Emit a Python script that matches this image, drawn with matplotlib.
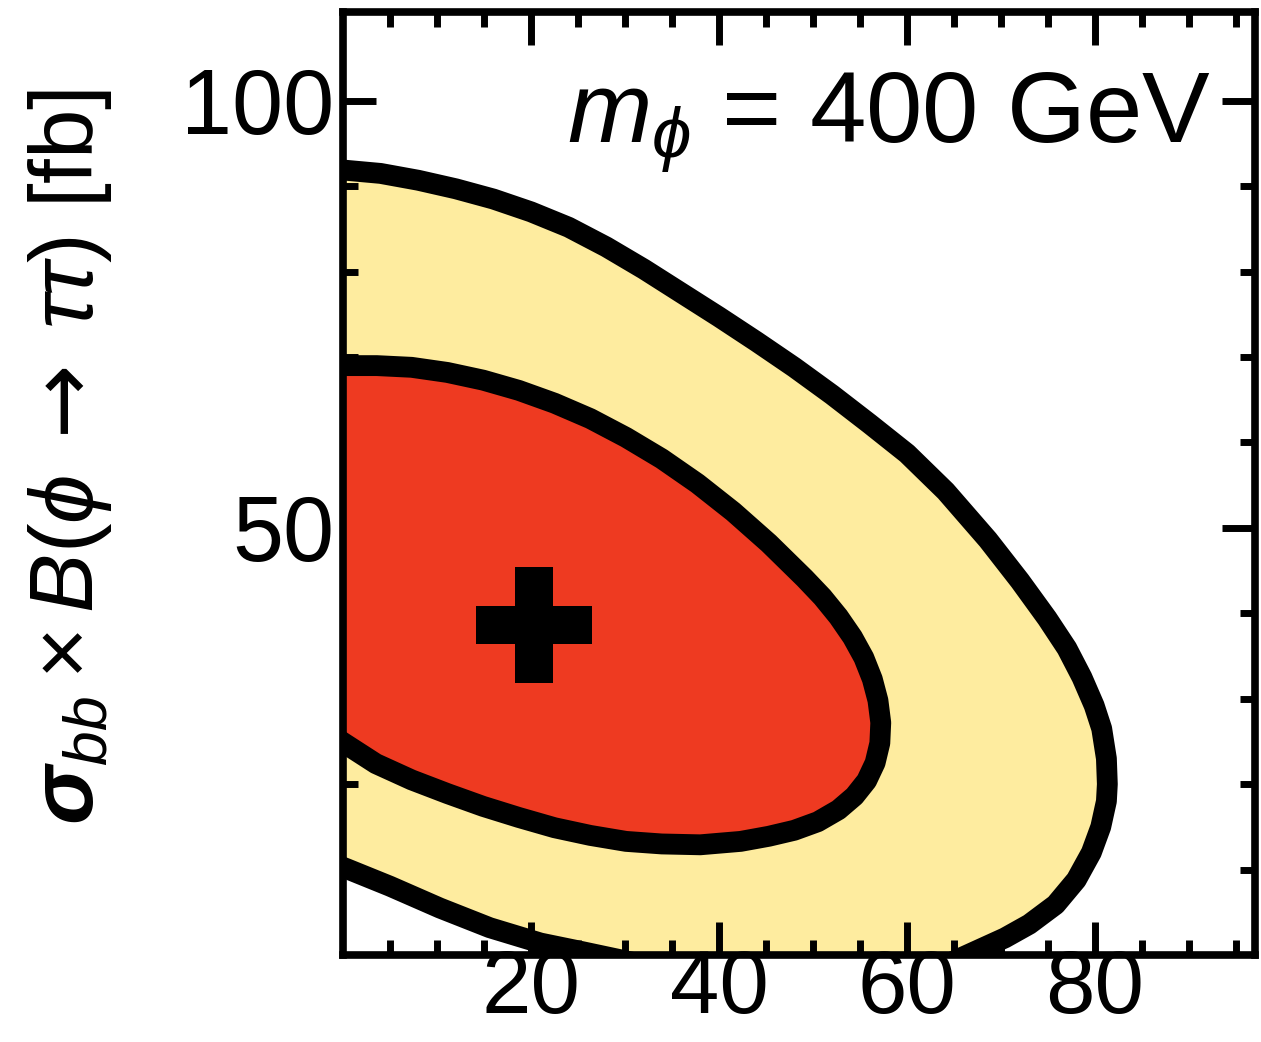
import numpy as np
import matplotlib
matplotlib.use('Agg')
import matplotlib.pyplot as plt

plt.rcParams['font.family'] = ['Liberation Sans', 'DejaVu Sans']
plt.rcParams['mathtext.fontset'] = 'custom'
plt.rcParams['mathtext.rm'] = 'Liberation Sans'
plt.rcParams['mathtext.it'] = 'Liberation Sans:italic'
plt.rcParams['mathtext.bf'] = 'Liberation Sans:italic:bold'
plt.rcParams['mathtext.sf'] = 'DejaVu Sans'

# 95% CL contour, upper/outer branch (left edge -> bottom edge)
outer_hi_x = [-1, 0, 4, 8, 12, 16, 20, 24, 28, 32, 36, 40, 44, 48, 52, 56, 60, 64.1, 68.6,
              72.0, 74.9, 77.0, 78.6, 79.9, 80.7, 81.2, 81.3, 81.2, 80.6, 79.6, 78.0, 75.8,
              73.0, 70.4, 67.4, 64.4]
outer_hi_y = [92.0, 91.9, 91.5, 90.7, 89.7, 88.5, 87.0, 85.2, 82.9, 80.3, 77.5, 74.7, 71.8,
              68.8, 65.6, 62.2, 58.7, 54.3, 48.6, 43.8, 39.4, 35.9, 32.5, 29.2, 26.5, 23.0,
              20.0, 18.0, 15.0, 12.0, 8.8, 5.9, 3.6, 2.0, 0.5, -1]
# 95% CL contour, lower branch (left edge -> bottom edge)
outer_lo_x = [-1, 0.4, 5.0, 10.3, 15.6, 21.0, 25.2, 31.4]
outer_lo_y = [10.7, 10.1, 8.05, 5.5, 3.2, 1.4, 0.45, -1]

# 68% CL contour (left edge top -> around -> left edge bottom)
inner_x = [-1, 0, 3.6, 7.3, 11.1, 14.9, 18.7, 22.5, 26.3, 30.1, 33.9, 37.7, 41.5, 45.3, 49.1,
           51.0, 52.7, 54.2, 55.4, 56.3, 56.9, 57.2, 57.1, 56.6, 55.7, 54.4, 52.7, 50.5,
           48.0, 45.3, 42.3, 38.0, 33.9, 30.1, 26.3, 22.5, 18.7, 14.9, 11.1, 7.3, 3.5, 0.4, -1]
inner_y = [69.0, 69.0, 69.0, 68.8, 68.2, 67.3, 66.1, 64.6, 62.8, 60.6, 58.1, 55.2, 51.9, 48.2,
           44.1, 41.9, 39.6, 37.2, 34.8, 32.3, 29.8, 27.2, 24.8, 22.5, 20.4, 18.6, 17.0, 15.6,
           14.6, 13.9, 13.3, 12.9, 13.0, 13.3, 14.0, 14.9, 16.1, 17.4, 18.9, 20.5, 22.4, 24.6,
           25.6]

best_fit = (20.3, 38.6)

fig = plt.figure(figsize=(12.61, 10.42), dpi=100)
ax = fig.add_axes([0.272, 0.0835, 0.7232, 0.905])

yellow = '#feec9f'
red = '#ee3a21'
lw = 15

# outer band
poly_x = outer_hi_x + outer_lo_x[::-1]
poly_y = outer_hi_y + outer_lo_y[::-1]
ax.fill(poly_x, poly_y, color=yellow, lw=0, zorder=1)
ax.plot(outer_hi_x, outer_hi_y, color='black', lw=lw, solid_joinstyle='round', zorder=2)
ax.plot(outer_lo_x, outer_lo_y, color='black', lw=lw, solid_joinstyle='round', zorder=2)

# inner region
ax.fill(inner_x, inner_y, color=red, lw=0, zorder=3)
ax.plot(inner_x, inner_y, color='black', lw=lw, solid_joinstyle='round', zorder=4)

ax.plot([best_fit[0]], [best_fit[1]], marker='P', color='black', markersize=84,
        markeredgewidth=0, linestyle='none', zorder=5)

ax.set_xlim(0, 97)
ax.set_ylim(0, 110.4)

ax.set_xticks([20, 40, 60, 80])
ax.set_xticks(np.arange(5, 97, 5), minor=True)
ax.set_yticks([50, 100])
ax.set_yticks(np.arange(10, 110, 10), minor=True)

for s in ax.spines.values():
    s.set_linewidth(5.5)
    s.set_zorder(6)

ax.tick_params(which='both', direction='in', top=True, right=True, width=5, zorder=6)
ax.tick_params(which='major', length=24)
ax.tick_params(which='minor', length=11)
ax.tick_params(axis='x', which='major', labelsize=64, pad=-5)
ax.tick_params(axis='y', which='major', labelsize=66, pad=6)

ax.text(92.3, 95.0, r'$m_{\phi}$ = 400 GeV', fontsize=73, ha='right', va='baseline', zorder=7)

fig.text(70 / 1261, 1 - 457 / 1042,
         r'$\mathbf{\sigma}_{bb} \times B(\phi\;\mathsf{\rightarrow}\;\tau\tau)$ [fb]',
         rotation=90, fontsize=64, ha='center', va='center')

fig.savefig('out.png', dpi=100)
